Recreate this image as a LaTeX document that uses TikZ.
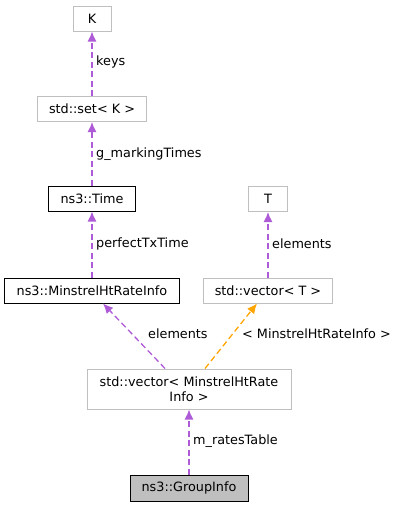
\documentclass[tikz,border=0pt]{standalone}
\usepackage{fontspec}
\setmainfont{DejaVu Sans}
\usetikzlibrary{arrows.meta}
\definecolor{edgepurple}{HTML}{9A32CD}
\definecolor{edgeorange}{HTML}{FFA500}
\definecolor{boxgrey}{HTML}{BFBFBF}
\begin{document}
\begin{tikzpicture}[x=1pt,y=-1pt,
font=\fontsize{12.8}{14.5}\selectfont,
cls/.style={%
draw=black,
line width=1pt,
inner sep=0pt,
minimum height=25pt
},
tmpl/.style={%
draw=boxgrey,
line width=1pt,
inner sep=0pt,
minimum height=25pt
},
dep/.style={%
color=edgepurple!80,
line width=1.3pt,
dash pattern=on 6pt off 3.5pt,
-{Latex[length=10pt,width=9pt]}
},
inst/.style={%
color=edgeorange,
line width=1.3pt,
dash pattern=on 6pt off 3.5pt,
-{Latex[length=10pt,width=9pt]}
},
lbl/.style={anchor=west,inner sep=0pt}
]
\useasboundingbox (0,0) rectangle (400,507);
%% Upper chain
\node[tmpl,minimum width=38pt]at(92,18.5)(K){K};
\node[tmpl,minimum width=109pt]at(92,109)(set){std::set< K >};
\node[cls,minimum width=87pt]at(92,198.5)(time){ns3::Time};
\node[cls,minimum width=175pt]at(92,290.5)(rate){ns3::MinstrelHtRateInfo};
\draw[dep](set)--(K);
\draw[dep](time)--(set);
\draw[dep](rate)--(time);
\node[lbl]at(96,62){keys};
\node[lbl]at(96,154){g\_markingTimes};
\node[lbl]at(96,244){perfectTxTime};
%% Template
\node[tmpl,minimum width=39pt]at(268,199)(T){T};
\node[tmpl,minimum width=129pt]at(268,290.5)(vecT){std::vector< T >};
\draw[dep](vecT)--(T);
\node[lbl]at(272,244){elements};
%% Instance
\node[tmpl,minimum width=204pt,minimum height=40pt,align=center]at(189,389)(vecrate){std::vector< MinstrelHtRate\\Info >};
\draw[dep]([xshift=-24pt]vecrate.north)--([xshift=11pt]rate.south);
\draw[inst]([xshift=16pt]vecrate.north)--([xshift=-11pt]vecT.south);
\node[lbl]at(148,334){elements};
\node[lbl]at(242,334){< MinstrelHtRateInfo >};
%% Group
\node[cls,fill=boxgrey,minimum width=118pt,minimum height=26pt]at(189,488)(group){ns3::GroupInfo};
\draw[dep](group)--(vecrate);
\node[lbl]at(193,441){m\_ratesTable};
\end{tikzpicture}
\end{document}
